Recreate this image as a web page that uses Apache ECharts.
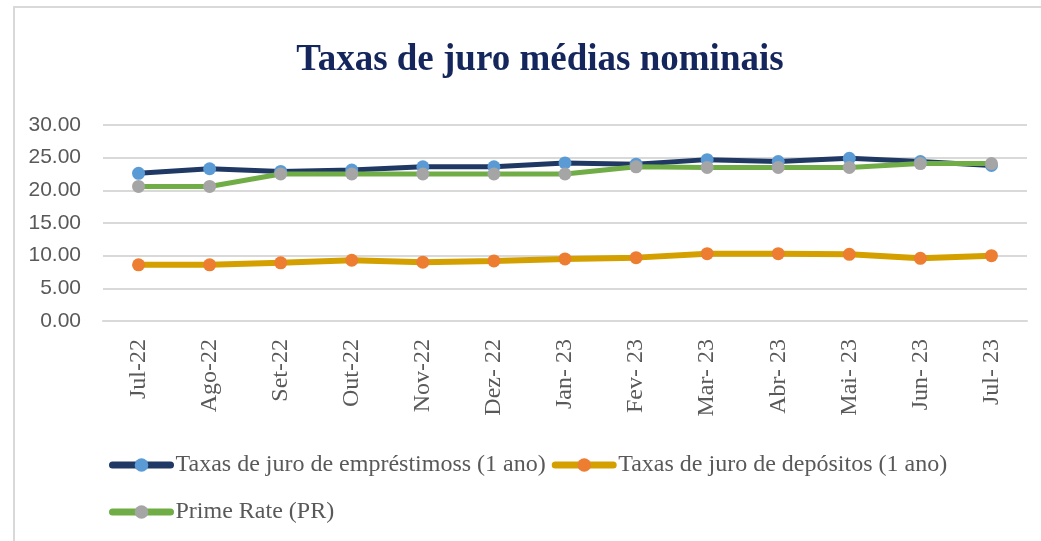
<!DOCTYPE html>
<html>
<head>
<meta charset="utf-8">
<script src="https://cdn.jsdelivr.net/npm/echarts@6/dist/echarts.min.js"></script>
<style>
    html, body { margin: 0; padding: 0; background: #fff; }
    #main { width: 1041px; height: 541px; }
</style>
</head>
<body>
<div id="main"></div>
<script>
// meses
var months = ['Jul-22', 'Ago-22', 'Set-22', 'Out-22', 'Nov-22', 'Dez- 22', 'Jan- 23', 'Fev- 23', 'Mar- 23', 'Abr- 23', 'Mai- 23', 'Jun- 23', 'Jul- 23'];
// taxas (%)
var emprestimos = [22.6, 23.3, 22.9, 23.1, 23.6, 23.6, 24.2, 24.0, 24.7, 24.4, 24.9, 24.4, 23.8];
var depositos = [8.6, 8.6, 8.9, 9.3, 9.0, 9.2, 9.5, 9.7, 10.3, 10.3, 10.2, 9.6, 10.0];
var primeRate = [20.6, 20.6, 22.5, 22.5, 22.5, 22.5, 22.5, 23.6, 23.5, 23.5, 23.5, 24.1, 24.1];
var names = ['Taxas de juro de empréstimoss (1 ano)', 'Taxas de juro de depósitos (1 ano)', 'Prime Rate (PR)'];

var serif = "'Liberation Serif', 'Times New Roman', serif";
var grey = '#595959';

var legendBase = {
    left: 104,
    itemWidth: 58,
    itemHeight: 17,
    itemGap: 6,
    lineStyle: { width: 7, cap: 'round' },
    textStyle: { fontFamily: serif, fontSize: 24, color: grey }
};

function lineSeries(name, data, lineColor, dotColor, width) {
    return {
        name: name,
        type: 'line',
        data: data,
        symbol: 'circle',
        symbolSize: 13,
        lineStyle: { color: lineColor, width: width, cap: 'round' },
        itemStyle: { color: dotColor },
        emphasis: { disabled: true },
        animation: false
    };
}

var option = {
    backgroundColor: '#fff',
    title: {
        text: 'Taxas de juro médias nominais',
        left: 535,
        top: 37,
        textAlign: 'center',
        textStyle: { fontFamily: serif, fontWeight: 'bold', fontSize: 37, color: '#14265c' }
    },
    graphic: [{
        type: 'rect',
        shape: { x: 14, y: 7, width: 1200, height: 700 },
        style: { fill: 'none', stroke: '#d9d9d9', lineWidth: 2 },
        silent: true
    }],
    legend: [
        Object.assign({}, legendBase, { top: 448, data: [names[0], names[1]] }),
        Object.assign({}, legendBase, { top: 495, data: [names[2]] })
    ],
    grid: { left: 103, right: 14, top: 125, bottom: 220 },
    xAxis: {
        type: 'category',
        data: months,
        boundaryGap: true,
        axisLine: { show: true, lineStyle: { color: '#d9d9d9', width: 2 } },
        axisTick: { show: false },
        axisLabel: { rotate: 90, margin: 18, fontFamily: serif, fontSize: 24, color: grey, interval: 0 }
    },
    yAxis: {
        type: 'value',
        min: 0,
        max: 30,
        interval: 5,
        axisLine: { show: false },
        axisTick: { show: false },
        splitLine: { lineStyle: { color: '#d9d9d9', width: 2 } },
        axisLabel: {
            margin: 22,
            fontFamily: "'Liberation Sans', Arial, sans-serif",
            fontSize: 21,
            color: grey,
            formatter: function (v) { return v.toFixed(2); }
        }
    },
    series: [
        lineSeries(names[0], emprestimos, '#1f3864', '#5b9bd5', 5),
        lineSeries(names[1], depositos, '#d4a000', '#ed7d31', 6),
        lineSeries(names[2], primeRate, '#70ad47', '#a5a5a5', 5)
    ]
};

var myChart = echarts.init(document.getElementById('main'));
myChart.setOption(option);
</script>
</body>
</html>
